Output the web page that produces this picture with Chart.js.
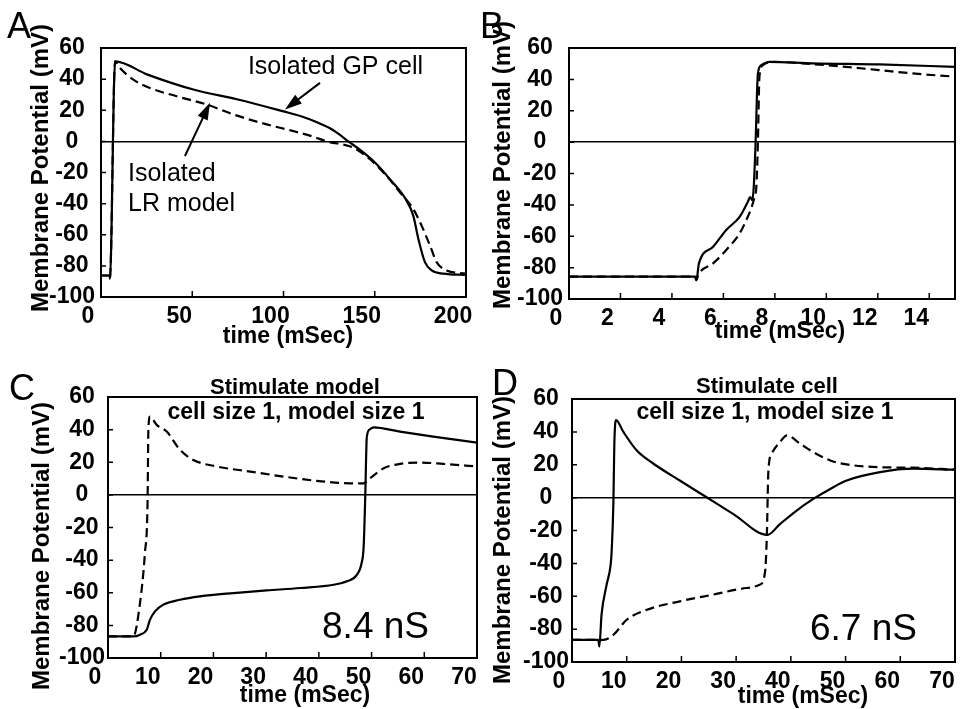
<!DOCTYPE html>
<html>
<head>
<meta charset="utf-8">
<script src="https://cdn.jsdelivr.net/npm/chart.js@4.4.1/dist/chart.umd.min.js"></script>
<style>
  body { margin: 0; background: #fff; }
  #fig { position: relative; width: 961px; height: 709px; background: #fff; }
  .panel { position: absolute; }
</style>
</head>
<body>
<div id="fig">
  <div class="panel" style="left:0;top:0;width:480px;height:354px"><canvas id="chartA"></canvas></div>
  <div class="panel" style="left:480px;top:0;width:481px;height:354px"><canvas id="chartB"></canvas></div>
  <div class="panel" style="left:0;top:354px;width:480px;height:355px"><canvas id="chartC"></canvas></div>
  <div class="panel" style="left:480px;top:354px;width:481px;height:355px"><canvas id="chartD"></canvas></div>
</div>
<script>
// tick labels
const yTicks = [-100, -80, -60, -40, -20, 0, 20, 40, 60];
const xTicksA = [0, 50, 100, 150, 200];
const xTicksB = [0, 2, 4, 6, 8, 10, 12, 14];
const xTicksCD = [0, 10, 20, 30, 40, 50, 60, 70];

// A: isolated GP cell (solid) / isolated LR model (dashed)
const tA_cell = [0, 4.8, 4.9, 7.7, 25.5, 50.6, 75, 99.5, 110, 118, 125, 130, 135.5, 142, 150.1, 158.3, 166.9, 171.1, 173.9, 177.5, 181.2, 187.6, 200];
const vA_cell = [-86.2, -86.2, -88.3, 51.4, 42.9, 33.3, 26.9, 19.4, 16, 12.5, 8.7, 5, 0, -5.5, -13.6, -24.3, -37, -47.7, -62.7, -77.6, -82.9, -85, -85.8];
const tA_model = [0, 4.8, 4.9, 7.7, 10.4, 17.7, 26.8, 41.4, 57.9, 72.5, 90.8, 105.4, 116.3, 123.7, 138.3, 147.4, 156.5, 163.9, 171.1, 175.7, 180.3, 183.9, 189.4, 200];
const vA_model = [-86.2, -86.2, -88.3, 51.4, 47.1, 39.7, 34.3, 29, 23.7, 17.3, 10.9, 6.6, 3, 0, -4.1, -11.5, -22.2, -32.9, -43.5, -54.2, -67, -77.6, -82.9, -85];

// B: upstroke detail
const tB_cell = [0, 4.9, 4.95, 5.05, 5.6, 6.11, 6.63, 6.95, 7.04, 7.12, 7.18, 7.25, 7.34, 7.47, 7.79, 9.47, 12.05, 15];
const vB_cell = [-85.8, -85.8, -88, -77.3, -66.7, -56, -47.6, -38, -35, -37, -28.5, -0.8, 43.7, 49, 51.2, 50.2, 49.5, 48];
const tB_model = [0, 4.9, 4.95, 5.02, 5.6, 6.11, 6.63, 6.89, 7.08, 7.21, 7.28, 7.34, 7.4, 7.53, 7.92, 9.47, 10.76, 12.05, 13.35, 15];
const vB_model = [-85.8, -85.8, -88, -84.7, -77.3, -68.8, -58.2, -49.7, -42.3, -35, -28.5, -0.8, 41.6, 49, 51.2, 49.7, 48, 45.9, 43.8, 41.7];

// C: stimulate model, 8.4 nS
const tC_cell = [0, 4.8, 6.07, 7.34, 7.97, 8.92, 10.5, 13.66, 17.46, 23.8, 30.1, 36.5, 42.8, 45.3, 47.2, 48.1, 48.5, 48.8, 49.1, 49.7, 50.4, 55.4, 61.7, 70];
const vC_cell = [-86.8, -86.8, -85.7, -82.7, -76.5, -71.4, -67.3, -64.3, -62.2, -60.2, -58.6, -57.1, -55.1, -53, -49, -41.9, -31.6, -1, 35.7, 40.2, 41.4, 38.8, 35.7, 32];
const tC_model = [0, 4.8, 6.07, 7.0, 7.5, 7.66, 7.97, 9.24, 11.14, 13.66, 16.2, 20.6, 27, 33.3, 39.6, 45.9, 48.5, 49.7, 52.3, 55.4, 59.2, 63.6, 70];
const vC_model = [-86.8, -86.8, -66.3, -35.7, -5.1, 39.8, 48, 42.9, 38.8, 27.6, 21.4, 17.4, 14.3, 11.2, 8.6, 7.1, 7.1, 10.2, 16.3, 19, 19.8, 19, 17.4];

// D: stimulate cell, 6.7 nS
const tD_cell = [0, 4.8, 5.0, 5.4, 6.34, 7.07, 7.25, 7.56, 7.74, 8.05, 9.39, 11.8, 14.9, 19.7, 24.6, 29.5, 35.7, 38, 41, 44.1, 47.2, 50.2, 56.3, 62.4, 70];
const vD_cell = [-86.5, -86.5, -90.6, -71.2, -52.8, -40.6, -32.4, -3.9, 32.9, 47.2, 40, 28.8, 20.6, 10.4, 0.2, -10, -22.7, -16.1, -8, -0.8, 5.3, 10.4, 15.5, 17.6, 17];
const tD_model = [0, 5.75, 7.56, 10, 13.7, 19.7, 25.8, 31.9, 34.3, 35.3, 35.6, 35.9, 36.5, 38, 39.3, 41.7, 44.1, 47.2, 50.2, 56.3, 62.4, 70];
const vD_model = [-86.5, -86.5, -83.5, -74.3, -68.2, -63.1, -59, -55, -53, -44.8, -24.4, 16.5, 26.7, 33.8, 37.9, 32.8, 27.7, 22.6, 20.2, 18.5, 18.2, 17];

const FONT = '"Liberation Sans", Arial, Helvetica, sans-serif';
Chart.defaults.font.family = FONT;
Chart.defaults.color = '#000';

const zip = (t, v) => t.map((x, i) => ({ x: x, y: v[i] }));

// panel layout + annotations
const panels = {
  chartA: {
    w: 480, h: 354, area: { left: 101, top: 48, right: 466, bottom: 297 }, yPad: 6,
    xMax: 200, xTicks: xTicksA, t1: tA_cell, v1: vA_cell, t2: tA_model, v2: vA_model,
    letter: { text: 'A', x: 7, y: 38 }, yTitle: { x: 41, y: 168 }, xTitle: { x: 288, y: 337 },
    texts: [
      { text: 'Isolated GP cell', t: 80.5, v: 47.4, font: '25px' },
      { text: 'Isolated', t: 14.8, v: -21.1, font: '25px' },
      { text: 'LR model', t: 14.8, v: -40.3, font: '25px' }
    ],
    arrows: [
      { t1: 120, v1: 37.6, t2: 100.8, v2: 20.5 },
      { t1: 46, v1: -9.4, t2: 59.7, v2: 24.8 }
    ]
  },
  chartB: {
    w: 481, h: 354, area: { left: 89, top: 48, right: 475, bottom: 299 }, yPad: 6,
    xMax: 15, xTicks: xTicksB, t1: tB_cell, v1: vB_cell, t2: tB_model, v2: vB_model,
    letter: { text: 'B', x: 0, y: 38 }, yTitle: { x: 23, y: 165 }, xTitle: { x: 300, y: 332 },
    texts: [], arrows: []
  },
  chartC: {
    w: 480, h: 355, area: { left: 108, top: 43, right: 477, bottom: 304 }, yPad: 3,
    xMax: 70, xTicks: xTicksCD, t1: tC_cell, v1: vC_cell, t2: tC_model, v2: vC_model,
    letter: { text: 'C', x: 9, y: 46 }, yTitle: { x: 42, y: 192 }, xTitle: { x: 305, y: 342 },
    heads: [
      { text: 'Stimulate model', x: 295, y: 34, font: 'bold 22px' },
      { text: 'cell size 1, model size 1', x: 296, y: 59, font: 'bold 23px' }
    ],
    texts: [{ text: '8.4 nS', t: 40.6, v: -81.4, font: '37px' }],
    arrows: []
  },
  chartD: {
    w: 481, h: 355, area: { left: 92, top: 45, right: 475, bottom: 308 }, yPad: 3,
    xMax: 70, xTicks: xTicksCD, t1: tD_cell, v1: vD_cell, t2: tD_model, v2: vD_model,
    letter: { text: 'D', x: 12, y: 41 }, yTitle: { x: 23, y: 186 }, xTitle: { x: 323, y: 343 },
    heads: [
      { text: 'Stimulate cell', x: 287, y: 33, font: 'bold 22px' },
      { text: 'cell size 1, model size 1', x: 285, y: 59, font: 'bold 23px' }
    ],
    texts: [{ text: '6.7 nS', t: 43.5, v: -80.2, font: '37px' }],
    arrows: []
  }
};

function arrow(ctx, x1, y1, x2, y2) {
  const a = Math.atan2(y2 - y1, x2 - x1);
  const hl = 17, hw = 5.5;
  ctx.beginPath();
  ctx.moveTo(x1, y1);
  ctx.lineTo(x2 - hl * 0.7 * Math.cos(a), y2 - hl * 0.7 * Math.sin(a));
  ctx.stroke();
  ctx.beginPath();
  ctx.moveTo(x2, y2);
  ctx.lineTo(x2 - hl * Math.cos(a) + hw * Math.sin(a), y2 - hl * Math.sin(a) - hw * Math.cos(a));
  ctx.lineTo(x2 - hl * Math.cos(a) - hw * Math.sin(a), y2 - hl * Math.sin(a) + hw * Math.cos(a));
  ctx.closePath();
  ctx.fill();
}

const decor = {
  id: 'decor',
  afterDraw(chart) {
    const m = panels[chart.canvas.id];
    const ctx = chart.ctx;
    const { left, top, right, bottom } = chart.chartArea;
    const xs = chart.scales.x, ys = chart.scales.y;
    ctx.save();
    ctx.strokeStyle = '#000';
    ctx.fillStyle = '#000';

    // frame
    ctx.lineWidth = 2;
    ctx.strokeRect(left, top, right - left, bottom - top);

    // inward tick marks
    ctx.lineWidth = 1.5;
    ctx.beginPath();
    m.xTicks.forEach(v => {
      if (v <= xs.min || v >= xs.max) return;
      const px = xs.getPixelForValue(v);
      ctx.moveTo(px, bottom);
      ctx.lineTo(px, bottom - 6);
    });
    yTicks.forEach(v => {
      if (v <= ys.min || v >= ys.max) return;
      const py = ys.getPixelForValue(v);
      ctx.moveTo(left, py);
      ctx.lineTo(left + 5, py);
    });
    ctx.stroke();

    // panel letter
    ctx.font = '36px ' + FONT;
    ctx.textAlign = 'left';
    ctx.textBaseline = 'alphabetic';
    ctx.fillText(m.letter.text, m.letter.x, m.letter.y);

    // axis titles
    ctx.font = 'bold 23px ' + FONT;
    ctx.textAlign = 'center';
    ctx.textBaseline = 'middle';
    ctx.fillText('time (mSec)', m.xTitle.x, m.xTitle.y);
    ctx.save();
    ctx.translate(m.yTitle.x, m.yTitle.y);
    ctx.rotate(-Math.PI / 2);
    ctx.font = 'bold 24px ' + FONT;
    ctx.fillText('Membrane Potential (mV)', 0, 0);
    ctx.restore();

    // panel headings
    (m.heads || []).forEach(h => {
      ctx.font = h.font + ' ' + FONT;
      ctx.textAlign = 'center';
      ctx.fillText(h.text, h.x, h.y);
    });

    // annotations in data coordinates
    m.texts.forEach(tx => {
      ctx.font = tx.font + ' ' + FONT;
      ctx.textAlign = 'left';
      ctx.textBaseline = 'middle';
      ctx.fillText(tx.text, xs.getPixelForValue(tx.t), ys.getPixelForValue(tx.v));
    });
    ctx.lineWidth = 2;
    m.arrows.forEach(a => {
      arrow(ctx, xs.getPixelForValue(a.t1), ys.getPixelForValue(a.v1),
                 xs.getPixelForValue(a.t2), ys.getPixelForValue(a.v2));
    });
    ctx.restore();
  }
};

function buildChart(id) {
  const m = panels[id];
  return new Chart(document.getElementById(id), {
    type: 'line',
    data: {
      datasets: [
        { data: zip(m.t1, m.v1), borderColor: '#000', borderWidth: 2.2, pointRadius: 0, cubicInterpolationMode: 'monotone' },
        { data: zip(m.t2, m.v2), borderColor: '#000', borderWidth: 2.2, borderDash: [9, 5], pointRadius: 0, cubicInterpolationMode: 'monotone' }
      ]
    },
    options: {
      responsive: true,
      maintainAspectRatio: false,
      animation: false,
      layout: { padding: { top: m.area.top, right: m.w - m.area.right, left: 0, bottom: 0 } },
      plugins: { legend: { display: false }, tooltip: { enabled: false } },
      scales: {
        x: {
          type: 'linear', min: 0, max: m.xMax,
          afterBuildTicks: s => { s.ticks = m.xTicks.map(v => ({ value: v })); },
          afterFit: s => { s.height = m.h - m.area.bottom; s.paddingLeft = 0; s.paddingRight = 0; },
          grid: { display: false, drawTicks: false },
          border: { display: false },
          ticks: { color: '#000', font: { size: 23, weight: 'bold' }, padding: 6, labelOffset: -13, maxRotation: 0, autoSkip: false }
        },
        y: {
          type: 'linear', min: -100, max: 60,
          afterBuildTicks: s => { s.ticks = yTicks.map(v => ({ value: v })); },
          afterFit: s => { s.width = m.area.left; s.paddingTop = 0; s.paddingBottom = 0; },
          grid: {
            color: c => (c.tick && c.tick.value === 0) ? '#000' : 'rgba(0,0,0,0)',
            lineWidth: 1.5, drawTicks: false
          },
          border: { display: false },
          ticks: { color: '#000', font: { size: 23, weight: 'bold' }, padding: m.yPad, crossAlign: 'center', autoSkip: false }
        }
      }
    },
    plugins: [decor]
  });
}

buildChart('chartA');
buildChart('chartB');
buildChart('chartC');
buildChart('chartD');
</script>
</body>
</html>
